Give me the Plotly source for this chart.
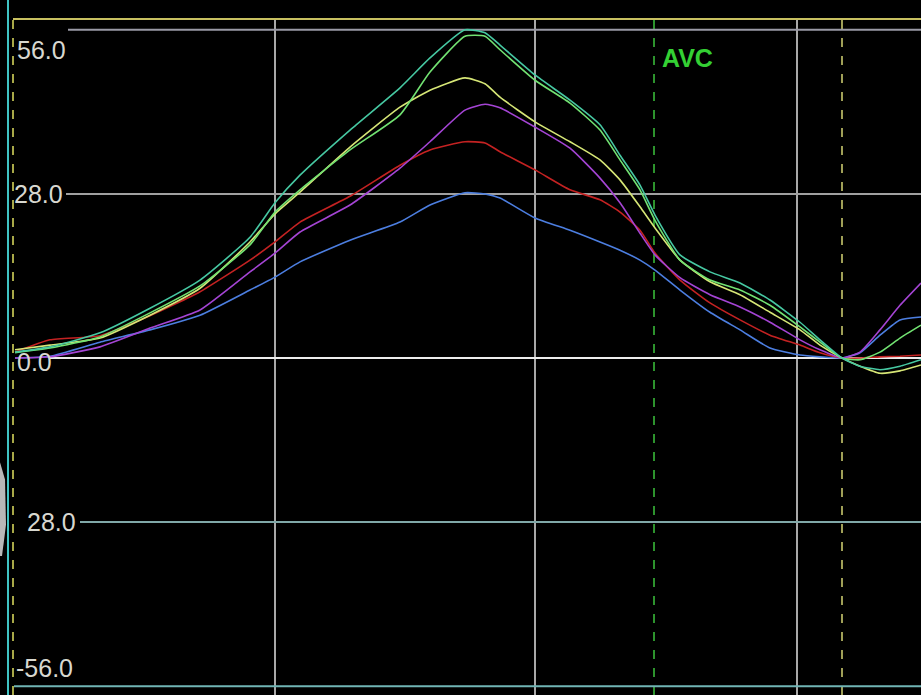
import plotly.graph_objects as go

# sample positions (time axis, arbitrary units)
t = [15, 50, 100, 150, 200, 250, 275, 300, 350, 400, 430, 465, 485, 500, 535,
     570, 600, 620, 640, 655, 680, 710, 740, 770, 800, 820, 842, 860, 880, 900, 921]

blue = [0.0, 0.3, 2.7, 4.8, 7.3, 11.6, 13.8, 16.4, 20.1, 23.2, 26.1, 28.2, 28.0, 27.3, 23.9,
        21.8, 19.8, 18.4, 16.7, 15.0, 11.6, 7.8, 4.8, 1.7, 0.5, 0.2, 0.0, 0.9, 3.9, 6.5, 7.0]
red = [1.0, 3.1, 3.8, 7.2, 11.3, 16.7, 19.8, 23.2, 27.6, 32.9, 35.5, 36.9, 36.7, 35.2, 32.1,
       28.7, 27.0, 24.9, 21.8, 17.9, 13.3, 9.4, 6.5, 3.9, 2.2, 0.9, 0.0, 0.0, 0.2, 0.3, 0.5]
purple = [0.0, 0.2, 1.9, 5.1, 8.2, 14.7, 17.9, 21.5, 26.1, 32.4, 36.9, 42.3, 43.3, 42.7, 39.4,
          35.8, 30.7, 26.5, 21.3, 17.6, 13.7, 10.8, 8.7, 6.1, 3.1, 1.4, 0.0, 1.0, 4.8, 9.0, 12.8]
yellow = [1.4, 2.2, 3.4, 7.3, 11.9, 19.8, 24.6, 28.3, 36.0, 42.8, 45.7, 47.8, 46.8, 44.5, 40.3,
          36.9, 33.8, 30.4, 25.8, 22.2, 16.7, 13.0, 10.8, 7.8, 4.8, 2.2, 0.0, -1.4, -2.6, -2.2, -1.2]
green = [0.9, 1.7, 3.6, 7.7, 12.3, 19.3, 24.9, 28.7, 35.5, 41.5, 48.8, 54.9, 54.9, 52.6, 47.4,
         43.5, 38.9, 33.8, 28.7, 23.5, 16.7, 13.3, 11.6, 9.0, 5.3, 2.7, 0.0, -0.3, 1.0, 3.4, 5.6]
teal = [1.0, 1.9, 4.3, 8.5, 13.3, 20.6, 26.5, 31.2, 38.9, 46.1, 51.2, 56.0, 55.5, 53.4, 48.3,
        44.0, 39.8, 34.6, 29.5, 24.4, 17.6, 14.7, 12.8, 9.9, 6.1, 3.1, 0.0, -1.4, -2.0, -1.4, -0.3]

series = [
    ("blue", blue, "#4c7ee0"),
    ("red", red, "#c42222"),
    ("purple", purple, "#a444d4"),
    ("yellow", yellow, "#d6e676"),
    ("green", green, "#72e272"),
    ("teal", teal, "#46c8a2"),
]

grid_vals = [56, 28, 0, -28, -56]
grid_labels = ["56.0", "28.0", "0.0", "28.0", "-56.0"]
vgrid = [275, 535, 797]
avc_t = 654
marker_t = 842

fig = go.Figure()
for name, vals, col in series:
    fig.add_trace(go.Scatter(x=t, y=vals, mode="lines", name=name,
                             line=dict(color=col, width=1.6, shape="spline", smoothing=0.5),
                             hoverinfo="skip"))

shapes = []
top_y = 1 - 19 / 695
grid_cols = {56: "#9a9aa6", 28: "#a0a0a0", 0: "#ececec", -28: "#80a8a8", -56: "#70b4b4"}
grid_x0 = {56: 68, 28: 66, 0: 50, -28: 80, -56: 14}
for v in grid_vals:
    shapes.append(dict(type="line", xref="x", yref="y", x0=grid_x0[v], x1=921, y0=v, y1=v,
                       line=dict(color=grid_cols[v], width=2), layer="below"))
for xv in vgrid:
    shapes.append(dict(type="line", xref="x", yref="paper", x0=xv, x1=xv, y0=0, y1=top_y,
                       line=dict(color="#a8a8a8", width=2), layer="below"))
shapes.append(dict(type="line", xref="x", yref="paper", x0=avc_t, x1=avc_t, y0=0, y1=top_y,
                   line=dict(color="#3cc43c", width=1.5, dash="dash"), layer="below"))
shapes.append(dict(type="line", xref="x", yref="paper", x0=marker_t, x1=marker_t, y0=0, y1=top_y,
                   line=dict(color="#d4d474", width=1.5, dash="dash"), layer="below"))
# frame elements
shapes.append(dict(type="line", xref="x", yref="paper", x0=13, x1=921, y0=top_y, y1=top_y,
                   line=dict(color="#c8c060", width=2)))
shapes.append(dict(type="line", xref="x", yref="paper", x0=13, x1=13, y0=0, y1=top_y,
                   line=dict(color="#e0e060", width=1.5, dash="dash")))
shapes.append(dict(type="line", xref="x", yref="paper", x0=8, x1=8, y0=0, y1=1,
                   line=dict(color="#40c4c4", width=2)))
shapes.append(dict(type="path", xref="x", yref="paper",
                   path="M 0 0.335 L 5 0.31 L 6 0.245 L 2 0.2 L 0 0.2 Z",
                   fillcolor="#b8b8b8", line=dict(width=0)))

annotations = []
lab_x = {56: 15, 28: 12, 0: 15, -28: 25, -56: 14}
lab_anchor = {56: ("top", -4), 28: ("middle", 0), 0: ("middle", -4), -28: ("middle", 0), -56: ("bottom", 2)}
for v, lab in zip(grid_vals, grid_labels):
    ya, ys = lab_anchor[v]
    annotations.append(dict(x=lab_x[v], y=v, xref="x", yref="y", text=lab, showarrow=False,
                            xanchor="left", yanchor=ya, yshift=ys,
                            font=dict(family="Liberation Sans, Arial", size=25, color="#d8d8d0")))
annotations.append(dict(x=660, y=51.2, xref="x", yref="y", text="<b>AVC</b>", showarrow=False,
                        xanchor="left", yanchor="middle",
                        font=dict(family="Liberation Sans, Arial", size=25, color="#34d034")))

fig.update_layout(
    width=921, height=695,
    margin=dict(l=0, r=0, t=0, b=0),
    paper_bgcolor="black", plot_bgcolor="black",
    showlegend=False,
    xaxis=dict(range=[0, 921], visible=False, fixedrange=True),
    yaxis=dict(range=[-(695 - 358) / 5.86, 358 / 5.86], visible=False, fixedrange=True),
    shapes=shapes, annotations=annotations,
)

fig.write_html("out.html", config={"displayModeBar": False})
